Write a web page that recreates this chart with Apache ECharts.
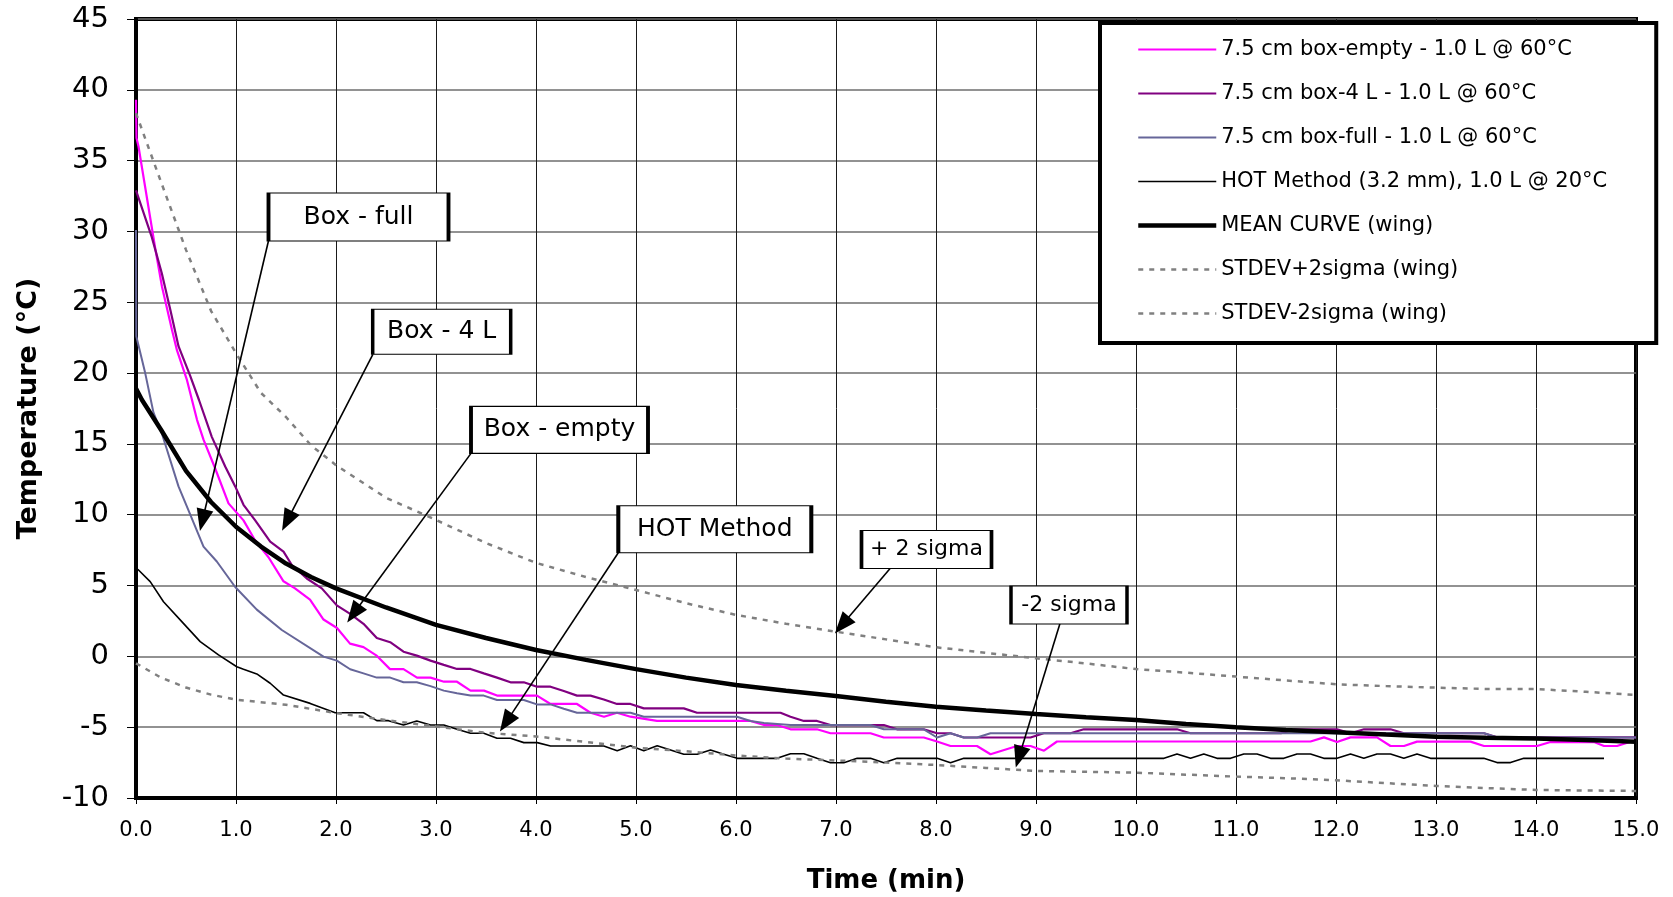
<!DOCTYPE html>
<html>
<head>
<meta charset="utf-8">
<script src="https://cdn.jsdelivr.net/npm/echarts@6/dist/echarts.min.js"></script>
<style>
html,body{margin:0;padding:0;background:#fff;}
#chart{width:1673px;height:897px;}
</style>
</head>
<body>
<div id="chart"></div>
<script>
// ---------- DATA (time in min, temperature in °C) ----------
const seriesNames = [
  '7.5 cm box-empty - 1.0 L @ 60°C',
  '7.5 cm box-4 L - 1.0 L @ 60°C',
  '7.5 cm box-full - 1.0 L @ 60°C',
  'HOT Method (3.2 mm), 1.0 L @ 20°C',
  'MEAN CURVE (wing)',
  'STDEV+2sigma (wing)',
  'STDEV-2sigma (wing)'
];

const boxEmpty = [[0,39.3],[0.005,36.6],[0.025,36.0],[0.19,28.9],[0.26,26.1],[0.36,23.05],[0.41,21.6],[0.51,19.5],[0.61,16.7],[0.675,15.3],[0.79,13.3],[0.925,10.8],[1.075,9.6],[1.19,8.2],[1.325,7.0],[1.475,5.3],[1.59,4.8],[1.74,4.0],[1.875,2.6],[2.01,2.0],[2.14,0.9],[2.275,0.65],[2.41,0.03],[2.54,-0.9],[2.675,-0.9],[2.81,-1.5],[2.945,-1.5],[3.08,-1.79],[3.21,-1.79],[3.345,-2.42],[3.48,-2.42],[3.61,-2.77],[4.01,-2.77],[4.145,-3.36],[4.41,-3.36],[4.545,-3.98],[4.68,-4.26],[4.81,-3.98],[4.945,-4.26],[5.21,-4.56],[6.145,-4.56],[6.28,-4.85],[6.41,-4.85],[6.545,-5.15],[6.81,-5.15],[6.945,-5.43],[7.345,-5.43],[7.478,-5.73],[7.878,-5.73],[8.01,-6.01],[8.145,-6.33],[8.41,-6.33],[8.545,-6.91],[8.81,-6.33],[8.945,-6.33],[9.08,-6.66],[9.21,-6.01],[11.745,-6.01],[11.88,-5.72],[12.01,-6.05],[12.145,-5.72],[12.41,-5.72],[12.545,-6.33],[12.68,-6.33],[12.81,-6.02],[13.345,-6.02],[13.48,-6.33],[14.01,-6.33],[14.145,-6.05],[14.58,-6.05],[14.68,-6.33],[14.81,-6.33],[14.945,-6.02],[15.0,-6.02]];

const box4L = [[0,32.9],[0.158,29.6],[0.258,27.05],[0.342,24.5],[0.425,21.9],[0.542,19.8],[0.63,18.1],[0.758,15.5],[0.892,13.4],[0.992,12.0],[1.075,10.7],[1.192,9.6],[1.342,8.1],[1.475,7.4],[1.558,6.45],[1.708,5.5],[1.858,4.8],[2.008,3.6],[2.142,3.0],[2.275,2.3],[2.408,1.3],[2.542,1.0],[2.675,0.33],[2.808,0.05],[2.945,-0.3],[3.078,-0.6],[3.21,-0.89],[3.345,-0.89],[3.478,-1.2],[3.61,-1.5],[3.745,-1.83],[3.878,-1.83],[4.01,-2.14],[4.145,-2.14],[4.278,-2.45],[4.41,-2.77],[4.545,-2.77],[4.678,-3.05],[4.81,-3.36],[4.945,-3.36],[5.078,-3.67],[5.478,-3.67],[5.61,-3.98],[6.445,-3.98],[6.545,-4.26],[6.678,-4.56],[6.81,-4.56],[6.945,-4.85],[7.478,-4.85],[7.61,-5.15],[7.878,-5.15],[8.01,-5.43],[8.145,-5.43],[8.278,-5.73],[8.945,-5.73],[9.078,-5.43],[9.345,-5.43],[9.478,-5.15],[10.41,-5.15],[10.545,-5.43],[11.45,-5.43],[11.59,-5.15],[12.01,-5.15],[12.145,-5.43],[12.28,-5.15],[12.545,-5.15],[12.68,-5.43],[13.48,-5.43],[13.61,-5.72],[15.0,-5.72]];

const boxFull = [[0,30.1],[0.003,22.6],[0.092,20.0],[0.175,17.2],[0.258,15.75],[0.425,12.0],[0.525,10.3],[0.675,7.75],[0.808,6.7],[0.992,4.9],[1.208,3.3],[1.458,1.86],[1.875,-0.02],[2.008,-0.3],[2.142,-0.91],[2.275,-1.2],[2.408,-1.5],[2.542,-1.5],[2.675,-1.83],[2.808,-1.83],[2.945,-2.1],[3.078,-2.42],[3.21,-2.6],[3.345,-2.77],[3.478,-2.77],[3.61,-3.08],[3.878,-3.08],[4.01,-3.39],[4.145,-3.39],[4.278,-3.7],[4.41,-3.98],[4.945,-3.98],[5.078,-4.26],[6.01,-4.26],[6.145,-4.56],[6.28,-4.7],[6.545,-4.85],[7.345,-4.85],[7.478,-5.15],[7.878,-5.15],[8.01,-5.73],[8.145,-5.43],[8.278,-5.73],[8.41,-5.73],[8.545,-5.43],[13.48,-5.43],[13.61,-5.72],[15.0,-5.72]];

const hotMethod = [[0,6.2],[0.025,6.1],[0.142,5.28],[0.275,3.86],[0.458,2.45],[0.642,1.04],[0.825,0.1],[1.008,-0.73],[1.075,-0.91],[1.208,-1.24],[1.342,-1.9],[1.475,-2.73],[1.742,-3.32],[1.992,-3.98],[2.275,-3.98],[2.408,-4.54],[2.525,-4.54],[2.675,-4.85],[2.808,-4.56],[2.945,-4.85],[3.078,-4.85],[3.21,-5.15],[3.345,-5.43],[3.478,-5.43],[3.61,-5.78],[3.745,-5.78],[3.878,-6.09],[4.012,-6.09],[4.145,-6.33],[4.678,-6.33],[4.812,-6.66],[4.945,-6.31],[5.078,-6.66],[5.212,-6.31],[5.345,-6.61],[5.478,-6.91],[5.612,-6.91],[5.745,-6.61],[5.878,-6.91],[6.012,-7.2],[6.41,-7.2],[6.545,-6.88],[6.678,-6.88],[6.81,-7.2],[6.945,-7.51],[7.078,-7.51],[7.212,-7.2],[7.345,-7.2],[7.478,-7.51],[7.612,-7.2],[8.012,-7.2],[8.145,-7.51],[8.278,-7.2],[10.28,-7.2],[10.41,-6.89],[10.545,-7.2],[10.678,-6.89],[10.81,-7.2],[10.945,-7.2],[11.078,-6.89],[11.21,-6.89],[11.345,-7.2],[11.478,-7.2],[11.61,-6.89],[11.745,-6.89],[11.878,-7.2],[12.01,-7.2],[12.145,-6.89],[12.278,-7.2],[12.41,-6.89],[12.545,-6.89],[12.678,-7.2],[12.81,-6.89],[12.945,-7.2],[13.478,-7.2],[13.61,-7.5],[13.745,-7.5],[13.878,-7.2],[14.68,-7.2]];

const meanCurve = [[0,18.9],[0.06,18.1],[0.25,16.0],[0.5,13.1],[0.75,10.9],[1.0,9.15],[1.25,7.75],[1.5,6.55],[1.75,5.6],[2.0,4.8],[2.5,3.45],[3.0,2.22],[3.5,1.3],[4.0,0.45],[4.5,-0.25],[5.0,-0.9],[5.5,-1.5],[6.0,-2.02],[6.5,-2.42],[7.0,-2.8],[7.5,-3.2],[8.0,-3.55],[8.5,-3.83],[9.0,-4.07],[9.5,-4.3],[10.0,-4.5],[10.5,-4.78],[11.0,-5.0],[11.5,-5.2],[12.0,-5.36],[12.5,-5.52],[13.0,-5.67],[13.5,-5.74],[14.0,-5.8],[14.5,-5.9],[15.0,-6.02]];

const plus2Sigma = [[0,38.35],[0.25,33.5],[0.5,28.7],[0.75,24.4],[1.0,21.4],[1.25,18.6],[1.5,16.9],[1.75,14.9],[2.0,13.5],[2.5,11.2],[3.0,9.63],[3.5,8.0],[4.0,6.6],[4.5,5.6],[5.0,4.69],[5.5,3.75],[6.0,2.93],[6.5,2.3],[7.0,1.74],[7.5,1.2],[8.0,0.64],[8.5,0.25],[9.0,-0.14],[9.5,-0.5],[10.0,-0.9],[10.5,-1.15],[11.0,-1.43],[11.5,-1.7],[12.0,-1.97],[12.5,-2.1],[13.0,-2.21],[13.5,-2.3],[14.0,-2.31],[14.5,-2.5],[15.0,-2.73]];

const minus2Sigma = [[0,-0.49],[0.25,-1.5],[0.5,-2.2],[0.75,-2.7],[1.0,-3.06],[1.5,-3.42],[2.0,-4.0],[2.5,-4.5],[3.0,-4.95],[3.5,-5.4],[4.0,-5.65],[4.5,-6.05],[5.0,-6.45],[5.5,-6.7],[6.0,-7.0],[6.5,-7.22],[7.0,-7.35],[7.5,-7.5],[8.0,-7.67],[8.5,-7.88],[9.0,-8.09],[9.5,-8.15],[10.0,-8.21],[10.5,-8.35],[11.0,-8.49],[11.5,-8.6],[12.0,-8.75],[12.5,-8.95],[13.0,-9.15],[13.5,-9.3],[14.0,-9.43],[14.5,-9.47],[15.0,-9.5]];

// Callout annotations (data coordinates): label, box centre, arrow start, arrow head
const noteText  = ['Box - full', 'Box - 4 L', 'Box - empty', 'HOT Method', '+ 2 sigma', '-2 sigma'];
const noteBox   = [[2.225,31.02],[3.057,22.92],[4.235,15.99],[5.788,8.98],[7.905,7.55],[9.33,3.63]];
const noteFrom  = [[1.325,29.34],[2.37,21.34],[3.35,14.33],[4.823,7.32],[7.56,6.36],[9.245,2.45]];
const noteTo    = [[0.665,9.61],[1.511,9.56],[2.177,3.02],[3.70,-4.66],[7.06,2.21],[8.83,-7.11]];

// Axis ranges
const xMin = 0, xMax = 15, xStep = 1;
const yMin = -10, yMax = 45, yStep = 5;

// ---------- STYLE ----------
const FONT = 'DejaVu Sans';
const boxSizes = [[180,48],[138,45],[177,47],[193,47],[130,38],[116,38]];
const boxFonts = [25,25,25,25,22,22];

const seriesData = [boxEmpty, box4L, boxFull, hotMethod, meanCurve, plus2Sigma, minus2Sigma];
const seriesStyle = [
  {color:'#FF00FF', width:2.2, type:'solid'},
  {color:'#800080', width:2.2, type:'solid'},
  {color:'#666699', width:2.0, type:'solid'},
  {color:'#000000', width:1.6, type:'solid'},
  {color:'#000000', width:4.5, type:'solid'},
  {color:'#808080', width:2.5, type:[5,6]},
  {color:'#808080', width:2.5, type:[5,6]}
];

const series = seriesNames.map((name, i) => ({
  name: name,
  type: 'line',
  data: seriesData[i],
  symbol: 'none',
  showSymbol: false,
  smooth: false,
  animation: false,
  lineStyle: {color: seriesStyle[i].color, width: seriesStyle[i].width, type: seriesStyle[i].type},
  itemStyle: {color: seriesStyle[i].color},
  emphasis: {disabled: true}
}));

// annotations attached to a helper series
series.push({
  name: '__notes',
  type: 'line',
  data: [],
  symbol: 'none',
  animation: false,
  silent: true,
  markLine: {
    silent: true,
    animation: false,
    symbol: ['none', 'triangle'],
    lineStyle: {color: '#000', width: 1.6, type: 'solid'},
    label: {show: false},
    emphasis: {disabled: true},
    z: 8,
    data: noteText.map((t, i) => [
      {coord: noteFrom[i], symbol: 'none'},
      {coord: noteTo[i], symbol: 'triangle', symbolSize: [17, 22]}
    ])
  },
  markPoint: {
    silent: true,
    animation: false,
    z: 9,
    data: noteText.map((t, i) => ({
      coord: noteBox[i],
      symbol: 'rect',
      symbolSize: boxSizes[i],
      itemStyle: {color: '#fff', borderColor: '#000', borderWidth: 2},
      label: {
        show: true, position: 'inside', formatter: t,
        color: '#000', fontFamily: FONT, fontSize: boxFonts[i]
      }
    }))
  }
});

const chart = echarts.init(document.getElementById('chart'), null, {renderer: 'canvas'});
chart.setOption({
  animation: false,
  backgroundColor: '#fff',
  textStyle: {fontFamily: FONT, color: '#000'},
  grid: {
    left: 136, right: 37, top: 19, bottom: 99,
    containLabel: false,
    outerBoundsMode: 'none',
    show: true, borderColor: '#000', borderWidth: 4, backgroundColor: 'transparent'
  },
  legend: {
    orient: 'vertical',
    left: 1100, top: 23,
    data: seriesNames.map((n, i) => ({
      name: n,
      lineStyle: {width: seriesStyle[i].width, type: seriesStyle[i].type, color: seriesStyle[i].color}
    })),
    selectedMode: false,
    itemWidth: 78, itemHeight: 21, itemGap: 23,
    padding: [16, 49, 19, 36],
    backgroundColor: '#fff',
    borderColor: '#000', borderWidth: 4,
    itemStyle: {opacity: 0},
    textStyle: {fontFamily: FONT, fontSize: 21, color: '#000'},
    z: 20
  },
  xAxis: {
    type: 'value', min: xMin, max: xMax, interval: xStep,
    name: 'Time (min)', nameLocation: 'middle', nameGap: 70,
    nameTextStyle: {fontFamily: FONT, fontSize: 26, fontWeight: 'bold', color: '#000'},
    axisLine: {show: true, onZero: false, lineStyle: {color: '#000', width: 4}},
    axisTick: {show: true, inside: false, length: 6, lineStyle: {color: '#000', width: 1}},
    axisLabel: {margin: 22, fontFamily: FONT, fontSize: 21, color: '#000', formatter: v => v.toFixed(1)},
    splitLine: {show: true, lineStyle: {color: '#1a1a1a', width: 1}}
  },
  yAxis: {
    type: 'value', min: yMin, max: yMax, interval: yStep,
    name: 'Temperature (°C)', nameLocation: 'middle', nameRotate: 90, nameGap: 94,
    nameTextStyle: {fontFamily: FONT, fontSize: 27, fontWeight: 'bold', color: '#000'},
    axisLine: {show: true, onZero: false, lineStyle: {color: '#000', width: 4}},
    axisTick: {show: true, inside: false, length: 9, lineStyle: {color: '#000', width: 1}},
    axisLabel: {margin: 27, fontFamily: FONT, fontSize: 29, color: '#000'},
    splitLine: {show: true, lineStyle: {color: '#6e6e6e', width: 1.5}}
  },
  series: series
});
</script>
</body>
</html>
